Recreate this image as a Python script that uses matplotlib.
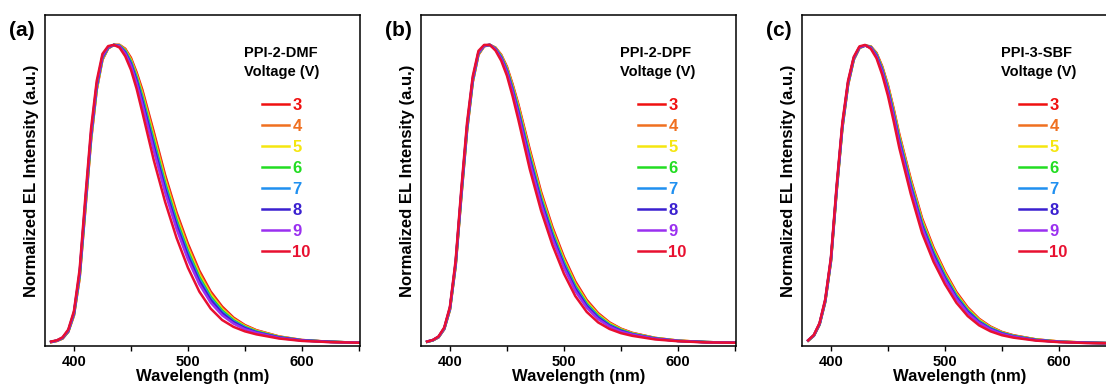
import matplotlib
matplotlib.use("Agg")
import matplotlib.pyplot as plt
from matplotlib.ticker import MultipleLocator

plt.rcParams['font.family'] = ['Liberation Sans', 'DejaVu Sans']
plt.rcParams['font.weight'] = 'bold'
plt.rcParams['axes.labelweight'] = 'bold'

# wavelength grid (nm)
wl = [380, 385, 390, 395, 400, 405, 410, 415, 420, 425, 430, 435, 440, 445, 450,
      455, 460, 470, 480, 490, 500, 510, 520, 530, 540, 550, 560, 580, 600, 625, 650]

voltages = [3, 4, 5, 6, 7, 8, 9, 10]
colors = ['#f01010', '#f07020', '#f5e610', '#22dd22', '#2090f0', '#3a20d0', '#9a30f0', '#e81030']

# normalized EL spectra, one list per voltage (3 ... 10)
dmf_spectra = [
    [0.006, 0.01, 0.018, 0.04, 0.095, 0.22, 0.45, 0.68, 0.85, 0.95, 0.988, 1.0, 1.0, 0.987, 0.957, 0.908, 0.85, 0.71, 0.565, 0.44, 0.335, 0.245, 0.175, 0.125, 0.088, 0.063, 0.046, 0.025, 0.013, 0.007, 0.004],
    [0.006, 0.01, 0.018, 0.041, 0.097, 0.223, 0.454, 0.684, 0.853, 0.952, 0.989, 1.0, 1.0, 0.985, 0.953, 0.903, 0.843, 0.701, 0.556, 0.432, 0.327, 0.238, 0.169, 0.12, 0.085, 0.061, 0.045, 0.024, 0.013, 0.007, 0.004],
    [0.006, 0.01, 0.019, 0.042, 0.098, 0.226, 0.458, 0.688, 0.856, 0.954, 0.99, 1.0, 0.999, 0.982, 0.949, 0.897, 0.835, 0.691, 0.547, 0.423, 0.319, 0.231, 0.164, 0.116, 0.082, 0.059, 0.043, 0.024, 0.012, 0.007, 0.004],
    [0.007, 0.011, 0.019, 0.042, 0.1, 0.229, 0.462, 0.692, 0.859, 0.956, 0.99, 1.0, 0.998, 0.98, 0.945, 0.892, 0.828, 0.682, 0.538, 0.415, 0.311, 0.224, 0.158, 0.112, 0.079, 0.057, 0.042, 0.023, 0.012, 0.007, 0.004],
    [0.007, 0.011, 0.02, 0.043, 0.101, 0.232, 0.466, 0.696, 0.862, 0.958, 0.991, 1.0, 0.997, 0.977, 0.941, 0.886, 0.82, 0.672, 0.529, 0.406, 0.303, 0.217, 0.152, 0.107, 0.076, 0.055, 0.04, 0.022, 0.012, 0.007, 0.004],
    [0.007, 0.011, 0.02, 0.044, 0.103, 0.235, 0.47, 0.70, 0.865, 0.96, 0.992, 1.0, 0.996, 0.975, 0.937, 0.881, 0.813, 0.663, 0.52, 0.398, 0.295, 0.21, 0.147, 0.103, 0.073, 0.053, 0.039, 0.022, 0.012, 0.007, 0.004],
    [0.007, 0.011, 0.021, 0.045, 0.105, 0.24, 0.476, 0.706, 0.87, 0.963, 0.993, 1.0, 0.995, 0.971, 0.931, 0.872, 0.801, 0.648, 0.507, 0.385, 0.283, 0.2, 0.138, 0.096, 0.068, 0.049, 0.037, 0.02, 0.011, 0.006, 0.004],
    [0.008, 0.012, 0.022, 0.048, 0.11, 0.25, 0.49, 0.72, 0.88, 0.97, 0.996, 1.0, 0.991, 0.962, 0.917, 0.853, 0.775, 0.615, 0.475, 0.355, 0.255, 0.175, 0.118, 0.08, 0.057, 0.042, 0.032, 0.018, 0.01, 0.006, 0.004],
]

dpf_spectra = [
    [0.007, 0.012, 0.022, 0.049, 0.114, 0.26, 0.492, 0.712, 0.875, 0.967, 0.995, 1.0, 0.991, 0.967, 0.927, 0.868, 0.802, 0.651, 0.508, 0.39, 0.291, 0.209, 0.147, 0.103, 0.072, 0.051, 0.037, 0.02, 0.011, 0.006, 0.004],
    [0.007, 0.012, 0.022, 0.05, 0.115, 0.262, 0.495, 0.715, 0.877, 0.968, 0.996, 1.0, 0.99, 0.965, 0.924, 0.864, 0.797, 0.644, 0.502, 0.384, 0.285, 0.204, 0.143, 0.1, 0.07, 0.05, 0.036, 0.02, 0.011, 0.006, 0.004],
    [0.007, 0.012, 0.023, 0.05, 0.116, 0.264, 0.498, 0.718, 0.879, 0.97, 0.996, 1.0, 0.989, 0.963, 0.921, 0.86, 0.792, 0.638, 0.495, 0.378, 0.28, 0.199, 0.139, 0.097, 0.068, 0.048, 0.035, 0.019, 0.011, 0.006, 0.004],
    [0.007, 0.012, 0.023, 0.051, 0.117, 0.266, 0.5, 0.72, 0.881, 0.971, 0.997, 1.0, 0.988, 0.961, 0.918, 0.856, 0.786, 0.631, 0.489, 0.372, 0.274, 0.194, 0.135, 0.094, 0.065, 0.047, 0.034, 0.019, 0.01, 0.006, 0.004],
    [0.007, 0.012, 0.023, 0.051, 0.118, 0.268, 0.503, 0.723, 0.883, 0.972, 0.997, 1.0, 0.987, 0.959, 0.915, 0.852, 0.781, 0.625, 0.483, 0.366, 0.269, 0.189, 0.131, 0.091, 0.063, 0.045, 0.033, 0.018, 0.01, 0.006, 0.004],
    [0.008, 0.013, 0.024, 0.052, 0.12, 0.27, 0.506, 0.726, 0.885, 0.974, 0.998, 1.0, 0.986, 0.957, 0.912, 0.848, 0.776, 0.618, 0.477, 0.36, 0.263, 0.185, 0.127, 0.088, 0.061, 0.044, 0.032, 0.018, 0.01, 0.006, 0.004],
    [0.008, 0.013, 0.024, 0.053, 0.121, 0.273, 0.51, 0.73, 0.888, 0.975, 0.998, 1.0, 0.985, 0.954, 0.908, 0.842, 0.768, 0.608, 0.467, 0.351, 0.255, 0.177, 0.121, 0.083, 0.058, 0.041, 0.031, 0.017, 0.01, 0.005, 0.004],
    [0.008, 0.013, 0.025, 0.055, 0.125, 0.28, 0.52, 0.74, 0.895, 0.98, 1.0, 1.0, 0.981, 0.947, 0.897, 0.828, 0.75, 0.585, 0.445, 0.33, 0.235, 0.16, 0.107, 0.072, 0.05, 0.036, 0.027, 0.015, 0.009, 0.005, 0.004],
]

sbf_spectra = [
    [0.011, 0.027, 0.064, 0.14, 0.275, 0.51, 0.72, 0.865, 0.95, 0.989, 0.998, 0.995, 0.973, 0.928, 0.866, 0.787, 0.701, 0.552, 0.42, 0.322, 0.242, 0.174, 0.122, 0.084, 0.058, 0.04, 0.029, 0.015, 0.008, 0.004, 0.002],
    [0.011, 0.027, 0.065, 0.141, 0.277, 0.512, 0.722, 0.867, 0.951, 0.99, 0.998, 0.994, 0.971, 0.925, 0.862, 0.783, 0.696, 0.547, 0.415, 0.317, 0.238, 0.17, 0.119, 0.082, 0.056, 0.039, 0.028, 0.015, 0.008, 0.004, 0.002],
    [0.011, 0.028, 0.065, 0.142, 0.278, 0.514, 0.724, 0.868, 0.952, 0.99, 0.998, 0.993, 0.969, 0.922, 0.859, 0.779, 0.692, 0.542, 0.41, 0.313, 0.234, 0.167, 0.116, 0.08, 0.055, 0.038, 0.027, 0.014, 0.008, 0.004, 0.002],
    [0.011, 0.028, 0.066, 0.143, 0.28, 0.516, 0.726, 0.87, 0.953, 0.991, 0.998, 0.993, 0.968, 0.92, 0.855, 0.774, 0.687, 0.537, 0.405, 0.308, 0.229, 0.163, 0.113, 0.077, 0.053, 0.037, 0.027, 0.014, 0.007, 0.004, 0.002],
    [0.011, 0.028, 0.066, 0.144, 0.281, 0.518, 0.728, 0.871, 0.954, 0.991, 0.998, 0.992, 0.966, 0.917, 0.852, 0.77, 0.683, 0.532, 0.4, 0.303, 0.225, 0.16, 0.11, 0.075, 0.052, 0.036, 0.026, 0.013, 0.007, 0.004, 0.002],
    [0.012, 0.029, 0.067, 0.145, 0.283, 0.52, 0.73, 0.873, 0.955, 0.992, 0.998, 0.991, 0.964, 0.914, 0.848, 0.766, 0.678, 0.527, 0.395, 0.299, 0.221, 0.156, 0.108, 0.073, 0.05, 0.035, 0.025, 0.013, 0.007, 0.004, 0.002],
    [0.012, 0.029, 0.068, 0.147, 0.285, 0.523, 0.733, 0.875, 0.957, 0.993, 0.998, 0.99, 0.961, 0.91, 0.843, 0.76, 0.671, 0.52, 0.388, 0.291, 0.215, 0.151, 0.103, 0.07, 0.048, 0.033, 0.024, 0.012, 0.007, 0.003, 0.002],
    [0.012, 0.03, 0.07, 0.15, 0.29, 0.53, 0.74, 0.88, 0.96, 0.995, 1.0, 0.987, 0.955, 0.9, 0.83, 0.745, 0.655, 0.502, 0.37, 0.275, 0.2, 0.138, 0.093, 0.062, 0.042, 0.029, 0.021, 0.011, 0.006, 0.003, 0.002],
]

panels = [
    ('(a)', 'PPI-2-DMF', dmf_spectra, 45),
    ('(b)', 'PPI-2-DPF', dpf_spectra, 421),
    ('(c)', 'PPI-3-SBF', sbf_spectra, 802),
]

W, H = 1106, 392
fig = plt.figure(figsize=(W / 100, H / 100), dpi=100)

for tag, name, spectra, left in panels:
    ax = fig.add_axes([left / W, 1 - 346 / H, 315 / W, 331 / H])
    for v, c, y in zip(voltages, colors, spectra):
        ax.plot(wl, y, color=c, lw=1.8, label=str(v))

    ax.set_xlim(374.6, 651)
    ax.set_ylim(-0.007, 1.1)
    ax.xaxis.set_major_locator(MultipleLocator(100))
    ax.xaxis.set_minor_locator(MultipleLocator(50))
    ax.tick_params(axis='x', which='both', direction='out', length=3.5, width=1,
                   labelsize=10.5, pad=3)
    ax.set_yticks([])
    for sp in ax.spines.values():
        sp.set_linewidth(1.1)
    ax.set_xlabel('Wavelength (nm)', fontsize=12, labelpad=0)
    ax.set_ylabel('Normalized EL Intensity (a.u.)', fontsize=12, labelpad=4)

    ax.text(0.632, 0.857, name + '\nVoltage (V)', transform=ax.transAxes,
            ha='left', va='center', fontsize=10.5, fontweight='bold', linespacing=1.4)
    ax.legend(loc='upper left', bbox_to_anchor=(0.69, 0.75), frameon=False,
              labelcolor='linecolor', prop={'size': 12, 'weight': 'bold'},
              handlelength=1.6, handletextpad=0.2, labelspacing=0.36,
              borderpad=0, borderaxespad=0)

    fig.text((left - 36) / W, 1 - 31 / H, tag, ha='left', va='center',
             fontsize=15, fontweight='bold')

fig.savefig('out.png', dpi=100)
